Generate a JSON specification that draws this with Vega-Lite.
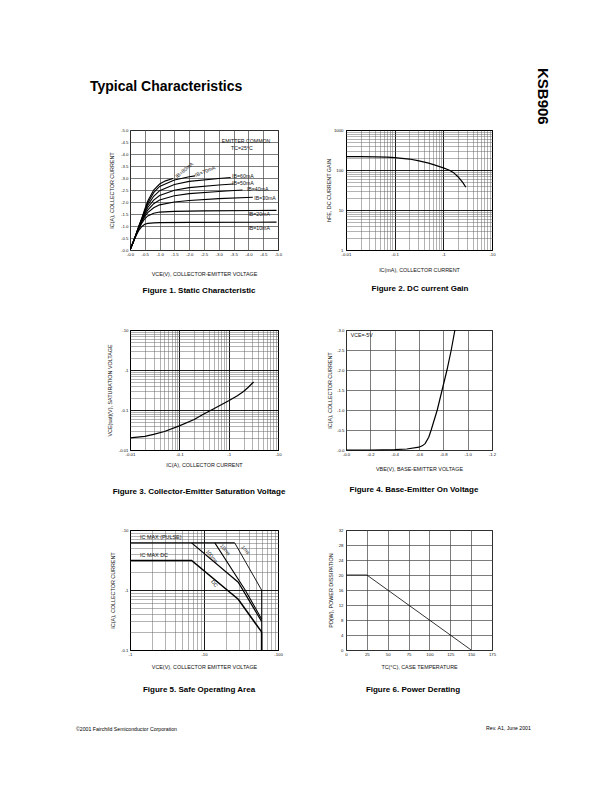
{
  "$schema": "https://vega.github.io/schema/vega-lite/v6.json",
  "autosize": {"type": "none"},
  "padding": {"left": 130, "top": 130, "right": 482, "bottom": 662},
  "background": "white",
  "config": {
    "font": "Liberation Sans",
    "view": {"stroke": "black", "strokeWidth": 1},
    "axis": {"domain": false, "ticks": false, "labelFontSize": 4.3, "labelColor": "#111", "labelFont": "Liberation Sans", "labelPadding": 2, "labelFlush": false, "labelOverlap": false, "labelBound": false, "titleFontSize": 5.4, "titleFontWeight": "normal", "titleColor": "#111", "titleFont": "Liberation Sans", "gridColor": "#444", "gridWidth": 0.7, "gridOpacity": 1},
    "title": {"fontSize": 8, "fontWeight": "bold", "color": "black", "font": "Liberation Sans"},
    "text": {"font": "Liberation Sans", "fontSize": 5.4, "color": "#111"}
  },
  "datasets": {
    "fig1": [
      {"ib": "10mA", "vce": 0, "ic": 0}, {"ib": "10mA", "vce": 0.1, "ic": 0.3}, {"ib": "10mA", "vce": 0.2, "ic": 0.58}, {"ib": "10mA", "vce": 0.3, "ic": 0.82}, {"ib": "10mA", "vce": 0.4, "ic": 0.98}, {"ib": "10mA", "vce": 0.5, "ic": 1.07}, {"ib": "10mA", "vce": 0.6, "ic": 1.11}, {"ib": "10mA", "vce": 0.8, "ic": 1.13}, {"ib": "10mA", "vce": 1.0, "ic": 1.14}, {"ib": "10mA", "vce": 2.0, "ic": 1.15}, {"ib": "10mA", "vce": 4.95, "ic": 1.16},
      {"ib": "20mA", "vce": 0, "ic": 0}, {"ib": "20mA", "vce": 0.1, "ic": 0.3}, {"ib": "20mA", "vce": 0.2, "ic": 0.6}, {"ib": "20mA", "vce": 0.3, "ic": 0.88}, {"ib": "20mA", "vce": 0.4, "ic": 1.12}, {"ib": "20mA", "vce": 0.5, "ic": 1.3}, {"ib": "20mA", "vce": 0.6, "ic": 1.42}, {"ib": "20mA", "vce": 0.8, "ic": 1.53}, {"ib": "20mA", "vce": 1.0, "ic": 1.58}, {"ib": "20mA", "vce": 1.5, "ic": 1.61}, {"ib": "20mA", "vce": 2.5, "ic": 1.63}, {"ib": "20mA", "vce": 4.95, "ic": 1.65},
      {"ib": "30mA", "vce": 0, "ic": 0}, {"ib": "30mA", "vce": 0.1, "ic": 0.3}, {"ib": "30mA", "vce": 0.2, "ic": 0.61}, {"ib": "30mA", "vce": 0.3, "ic": 0.92}, {"ib": "30mA", "vce": 0.4, "ic": 1.18}, {"ib": "30mA", "vce": 0.5, "ic": 1.4}, {"ib": "30mA", "vce": 0.6, "ic": 1.56}, {"ib": "30mA", "vce": 0.8, "ic": 1.76}, {"ib": "30mA", "vce": 1.0, "ic": 1.88}, {"ib": "30mA", "vce": 1.5, "ic": 2.0}, {"ib": "30mA", "vce": 2.0, "ic": 2.06}, {"ib": "30mA", "vce": 3.0, "ic": 2.14}, {"ib": "30mA", "vce": 4.15, "ic": 2.2},
      {"ib": "40mA", "vce": 0, "ic": 0}, {"ib": "40mA", "vce": 0.1, "ic": 0.3}, {"ib": "40mA", "vce": 0.2, "ic": 0.62}, {"ib": "40mA", "vce": 0.3, "ic": 0.94}, {"ib": "40mA", "vce": 0.4, "ic": 1.22}, {"ib": "40mA", "vce": 0.5, "ic": 1.47}, {"ib": "40mA", "vce": 0.6, "ic": 1.66}, {"ib": "40mA", "vce": 0.8, "ic": 1.93}, {"ib": "40mA", "vce": 1.0, "ic": 2.08}, {"ib": "40mA", "vce": 1.5, "ic": 2.26}, {"ib": "40mA", "vce": 2.0, "ic": 2.35}, {"ib": "40mA", "vce": 3.0, "ic": 2.44}, {"ib": "40mA", "vce": 3.8, "ic": 2.5},
      {"ib": "50mA", "vce": 0, "ic": 0}, {"ib": "50mA", "vce": 0.1, "ic": 0.3}, {"ib": "50mA", "vce": 0.2, "ic": 0.63}, {"ib": "50mA", "vce": 0.3, "ic": 0.96}, {"ib": "50mA", "vce": 0.4, "ic": 1.26}, {"ib": "50mA", "vce": 0.5, "ic": 1.54}, {"ib": "50mA", "vce": 0.6, "ic": 1.77}, {"ib": "50mA", "vce": 0.8, "ic": 2.08}, {"ib": "50mA", "vce": 1.0, "ic": 2.27}, {"ib": "50mA", "vce": 1.5, "ic": 2.49}, {"ib": "50mA", "vce": 2.0, "ic": 2.6}, {"ib": "50mA", "vce": 3.0, "ic": 2.71}, {"ib": "50mA", "vce": 3.5, "ic": 2.75},
      {"ib": "60mA", "vce": 0, "ic": 0}, {"ib": "60mA", "vce": 0.1, "ic": 0.3}, {"ib": "60mA", "vce": 0.2, "ic": 0.64}, {"ib": "60mA", "vce": 0.3, "ic": 0.98}, {"ib": "60mA", "vce": 0.4, "ic": 1.29}, {"ib": "60mA", "vce": 0.5, "ic": 1.6}, {"ib": "60mA", "vce": 0.6, "ic": 1.87}, {"ib": "60mA", "vce": 0.8, "ic": 2.24}, {"ib": "60mA", "vce": 1.0, "ic": 2.47}, {"ib": "60mA", "vce": 1.5, "ic": 2.73}, {"ib": "60mA", "vce": 2.0, "ic": 2.86}, {"ib": "60mA", "vce": 3.0, "ic": 2.98}, {"ib": "60mA", "vce": 3.4, "ic": 3.02},
      {"ib": "70mA", "vce": 0, "ic": 0}, {"ib": "70mA", "vce": 0.1, "ic": 0.3}, {"ib": "70mA", "vce": 0.2, "ic": 0.64}, {"ib": "70mA", "vce": 0.3, "ic": 0.99}, {"ib": "70mA", "vce": 0.4, "ic": 1.31}, {"ib": "70mA", "vce": 0.5, "ic": 1.65}, {"ib": "70mA", "vce": 0.6, "ic": 1.96}, {"ib": "70mA", "vce": 0.8, "ic": 2.39}, {"ib": "70mA", "vce": 1.0, "ic": 2.65}, {"ib": "70mA", "vce": 1.5, "ic": 2.92}, {"ib": "70mA", "vce": 2.0, "ic": 3.05}, {"ib": "70mA", "vce": 2.2, "ic": 3.09},
      {"ib": "80mA", "vce": 0, "ic": 0}, {"ib": "80mA", "vce": 0.1, "ic": 0.3}, {"ib": "80mA", "vce": 0.2, "ic": 0.65}, {"ib": "80mA", "vce": 0.3, "ic": 1.0}, {"ib": "80mA", "vce": 0.4, "ic": 1.33}, {"ib": "80mA", "vce": 0.5, "ic": 1.7}, {"ib": "80mA", "vce": 0.6, "ic": 2.04}, {"ib": "80mA", "vce": 0.8, "ic": 2.5}, {"ib": "80mA", "vce": 1.0, "ic": 2.75}, {"ib": "80mA", "vce": 1.2, "ic": 2.88}, {"ib": "80mA", "vce": 1.45, "ic": 2.98}
    ],
    "fig2": [
      {"ic": 0.01, "hfe": 215}, {"ic": 0.02, "hfe": 215}, {"ic": 0.04, "hfe": 214}, {"ic": 0.07, "hfe": 210}, {"ic": 0.1, "hfe": 205}, {"ic": 0.2, "hfe": 188}, {"ic": 0.3, "hfe": 172}, {"ic": 0.5, "hfe": 148}, {"ic": 0.7, "hfe": 131}, {"ic": 1.0, "hfe": 113}, {"ic": 1.3, "hfe": 100}, {"ic": 1.6, "hfe": 87}, {"ic": 2.0, "hfe": 68}, {"ic": 2.5, "hfe": 49}, {"ic": 2.9, "hfe": 37}
    ],
    "fig3": [
      {"ic": 0.01, "vsat": 0.02}, {"ic": 0.02, "vsat": 0.022}, {"ic": 0.03, "vsat": 0.0245}, {"ic": 0.05, "vsat": 0.029}, {"ic": 0.1, "vsat": 0.04}, {"ic": 0.2, "vsat": 0.058}, {"ic": 0.3, "vsat": 0.077}, {"ic": 0.5, "vsat": 0.107}, {"ic": 1.0, "vsat": 0.17}, {"ic": 1.5, "vsat": 0.228}, {"ic": 2.0, "vsat": 0.29}, {"ic": 2.5, "vsat": 0.37}, {"ic": 3.2, "vsat": 0.5}
    ],
    "fig4": [
      {"vbe": 0, "ic": 0}, {"vbe": 0.2, "ic": 0.0}, {"vbe": 0.4, "ic": 0.01}, {"vbe": 0.5, "ic": 0.025}, {"vbe": 0.6, "ic": 0.07}, {"vbe": 0.63, "ic": 0.11}, {"vbe": 0.65, "ic": 0.16}, {"vbe": 0.68, "ic": 0.32}, {"vbe": 0.7, "ic": 0.5}, {"vbe": 0.75, "ic": 1.0}, {"vbe": 0.79, "ic": 1.5}, {"vbe": 0.83, "ic": 2.0}, {"vbe": 0.865, "ic": 2.5}, {"vbe": 0.895, "ic": 3.0}
    ],
    "fig5": [
      {"curve": "DC", "vce": 1, "ic": 3.1}, {"curve": "DC", "vce": 6.8, "ic": 3.1}, {"curve": "DC", "vce": 29, "ic": 0.7}, {"curve": "DC", "vce": 60, "ic": 0.2}, {"curve": "DC", "vce": 60, "ic": 0.1},
      {"curve": "PULSE", "vce": 1, "ic": 6.1}, {"curve": "PULSE", "vce": 26, "ic": 6.1},
      {"curve": "100ms", "vce": 6.8, "ic": 6.1}, {"curve": "100ms", "vce": 29, "ic": 1.35}, {"curve": "100ms", "vce": 60, "ic": 0.3},
      {"curve": "10ms", "vce": 14, "ic": 6.1}, {"curve": "10ms", "vce": 36, "ic": 1.0}, {"curve": "10ms", "vce": 60, "ic": 0.33},
      {"curve": "1ms", "vce": 26, "ic": 6.1}, {"curve": "1ms", "vce": 60, "ic": 1.0}, {"curve": "1ms", "vce": 60, "ic": 0.1}
    ],
    "fig6": [
      {"tc": 0, "pd": 20}, {"tc": 25, "pd": 20}, {"tc": 150, "pd": 0}
    ]
  },
  "title": {"text": "KSB906", "orient": "right", "anchor": "start", "frame": "group", "fontSize": 15, "fontWeight": "bold", "offset": 4, "dx": -62},
  "bounds": "flush",
  "vconcat": [
    {
      "title": {"text": "Typical Characteristics", "orient": "top", "anchor": "start", "frame": "group", "fontSize": 14, "fontWeight": "bold", "offset": 34, "dx": -40},
      "bounds": "flush",
      "vconcat": [
        {
          "title": {"text": "Rev. A1, June 2001", "orient": "bottom", "anchor": "start", "frame": "group", "fontSize": 5.2, "fontWeight": "normal", "offset": -6, "dx": 356},
          "bounds": "flush",
          "vconcat": [
            {
              "title": {"text": "©2001 Fairchild Semiconductor Corporation", "orient": "bottom", "anchor": "start", "frame": "group", "fontSize": 5.2, "fontWeight": "normal", "offset": 33, "dx": -54},
              "bounds": "flush",
              "columns": 2,
              "spacing": {"row": 80, "column": 68},
              "concat": [
                {
                  "width": 148, "height": 120,
                  "title": {"text": "Figure 1. Static Characteristic", "orient": "bottom", "anchor": "middle", "frame": "group", "dx": -5, "offset": 10},
                  "encoding": {
                    "x": {"field": "vce", "type": "quantitative", "scale": {"domain": [0, 5], "nice": false}, "title": "VCE(V), COLLECTOR-EMITTER VOLTAGE",
                          "axis": {"values": [0, 0.5, 1, 1.5, 2, 2.5, 3, 3.5, 4, 4.5, 5], "labelExpr": "'-' + format(datum.value, '.1f')", "titlePadding": 15}},
                    "y": {"field": "ic", "type": "quantitative", "scale": {"domain": [0, 5], "nice": false}, "title": "IC(A), COLLECTOR CURRENT",
                          "axis": {"values": [0, 0.5, 1, 1.5, 2, 2.5, 3, 3.5, 4, 4.5, 5], "labelExpr": "'-' + format(datum.value, '.1f')", "titlePadding": 6}}
                  },
                  "layer": [
                    {
                      "data": {"name": "fig1"},
                      "mark": {"type": "line", "color": "black", "strokeWidth": 1.1, "clip": true},
                      "encoding": {"detail": {"field": "ib"}}
                    },
                    {
                      "data": {"values": [
                        {"label": "IB=60mA", "vce": 3.45, "ic": 3.08},
                        {"label": "IB=50mA", "vce": 3.45, "ic": 2.8},
                        {"label": "IB=40mA", "vce": 3.95, "ic": 2.53},
                        {"label": "IB=30mA", "vce": 4.2, "ic": 2.18},
                        {"label": "IB=20mA", "vce": 4.0, "ic": 1.5},
                        {"label": "IB=10mA", "vce": 4.0, "ic": 0.9}
                      ]},
                      "mark": {"type": "text", "align": "left", "baseline": "middle", "fontSize": 5.2},
                      "encoding": {"text": {"field": "label"}}
                    },
                    {
                      "data": {"values": [{"label": "EMITTER COMMON", "vce": 3.92, "ic": 4.55}, {"label": "TC=25°C", "vce": 3.78, "ic": 4.27}]},
                      "mark": {"type": "text", "align": "center", "baseline": "middle", "fontSize": 5.2},
                      "encoding": {"text": {"field": "label"}}
                    },
                    {
                      "data": {"values": [{"label": "IB=80mA", "vce": 1.55, "ic": 3.05}]},
                      "mark": {"type": "text", "align": "left", "baseline": "middle", "fontSize": 5.2, "angle": 320},
                      "encoding": {"text": {"field": "label"}}
                    },
                    {
                      "data": {"values": [{"label": "IB=70mA", "vce": 2.2, "ic": 3.12}]},
                      "mark": {"type": "text", "align": "left", "baseline": "middle", "fontSize": 5.2, "angle": 338},
                      "encoding": {"text": {"field": "label"}}
                    }
                  ]
                },
                {
                  "width": 146, "height": 120,
                  "title": {"text": "Figure 2. DC current Gain", "orient": "bottom", "anchor": "middle", "frame": "group", "dx": 1, "offset": 12},
                  "layer": [
                    {
                      "data": {"name": "fig2"},
                      "mark": {"type": "line", "color": "black", "strokeWidth": 1.2},
                      "encoding": {
                        "x": {"field": "ic", "type": "quantitative", "scale": {"type": "log", "domain": [0.01, 10], "nice": false}, "title": "IC(mA), COLLECTOR CURRENT",
                              "axis": {"values": [0.01, 0.02, 0.03, 0.04, 0.05, 0.06, 0.07, 0.08, 0.09, 0.1, 0.2, 0.3, 0.4, 0.5, 0.6, 0.7, 0.8, 0.9, 1, 2, 3, 4, 5, 6, 7, 8, 9, 10],
                                       "labelExpr": "abs(log(datum.value)/LN10 - round(log(datum.value)/LN10)) < 0.000001 ? '-' + datum.value : ''",
                                       "gridColor": {"condition": {"test": "abs(log(datum.value)/LN10 - round(log(datum.value)/LN10)) < 0.000001", "value": "black"}, "value": "#666"},
                                       "gridWidth": {"condition": {"test": "abs(log(datum.value)/LN10 - round(log(datum.value)/LN10)) < 0.000001", "value": 0.9}, "value": 0.5},
                                       "titlePadding": 11}},
                        "y": {"field": "hfe", "type": "quantitative", "scale": {"type": "log", "domain": [1, 1000], "nice": false}, "title": "hFE, DC CURRENT GAIN",
                              "axis": {"values": [1, 2, 3, 4, 5, 6, 7, 8, 9, 10, 20, 30, 40, 50, 60, 70, 80, 90, 100, 200, 300, 400, 500, 600, 700, 800, 900, 1000],
                                       "labelExpr": "abs(log(datum.value)/LN10 - round(log(datum.value)/LN10)) < 0.000001 ? '' + datum.value : ''",
                                       "gridColor": {"condition": {"test": "abs(log(datum.value)/LN10 - round(log(datum.value)/LN10)) < 0.000001", "value": "black"}, "value": "#666"},
                                       "gridWidth": {"condition": {"test": "abs(log(datum.value)/LN10 - round(log(datum.value)/LN10)) < 0.000001", "value": 0.9}, "value": 0.5},
                                       "labelPadding": 3, "titlePadding": 2}}
                      }
                    },
                    {
                      "mark": {"type": "rect", "color": "white"},
                      "encoding": {"x": {"datum": 2.8}, "x2": {"datum": 9.9}, "y": {"datum": 500}, "y2": {"datum": 990}}
                    },
                    {
                      "mark": {"type": "text", "align": "center", "baseline": "middle", "fontSize": 5.4},
                      "encoding": {"x": {"datum": 5.2}, "y": {"datum": 720}, "text": {"value": "VCE=-5V"}}
                    }
                  ]
                },
                {
                  "width": 148, "height": 120,
                  "title": {"text": "Figure 3. Collector-Emitter Saturation Voltage", "orient": "bottom", "anchor": "middle", "frame": "group", "dx": -5, "offset": 20},
                  "layer": [
                    {
                      "data": {"name": "fig3"},
                      "mark": {"type": "line", "color": "black", "strokeWidth": 1.2},
                      "encoding": {
                        "x": {"field": "ic", "type": "quantitative", "scale": {"type": "log", "domain": [0.01, 10], "nice": false}, "title": "IC(A), COLLECTOR CURRENT",
                              "axis": {"values": [0.01, 0.02, 0.03, 0.04, 0.05, 0.06, 0.07, 0.08, 0.09, 0.1, 0.2, 0.3, 0.4, 0.5, 0.6, 0.7, 0.8, 0.9, 1, 2, 3, 4, 5, 6, 7, 8, 9, 10],
                                       "labelExpr": "abs(log(datum.value)/LN10 - round(log(datum.value)/LN10)) < 0.000001 ? '-' + datum.value : ''",
                                       "gridColor": {"condition": {"test": "abs(log(datum.value)/LN10 - round(log(datum.value)/LN10)) < 0.000001", "value": "black"}, "value": "#666"},
                                       "gridWidth": {"condition": {"test": "abs(log(datum.value)/LN10 - round(log(datum.value)/LN10)) < 0.000001", "value": 0.9}, "value": 0.5},
                                       "titlePadding": 6.5}},
                        "y": {"field": "vsat", "type": "quantitative", "scale": {"type": "log", "domain": [0.01, 10], "nice": false}, "title": "VCE(sat)(V), SATURATION VOLTAGE",
                              "axis": {"values": [0.01, 0.02, 0.03, 0.04, 0.05, 0.06, 0.07, 0.08, 0.09, 0.1, 0.2, 0.3, 0.4, 0.5, 0.6, 0.7, 0.8, 0.9, 1, 2, 3, 4, 5, 6, 7, 8, 9, 10],
                                       "labelExpr": "abs(log(datum.value)/LN10 - round(log(datum.value)/LN10)) < 0.000001 ? '-' + datum.value : ''",
                                       "gridColor": {"condition": {"test": "abs(log(datum.value)/LN10 - round(log(datum.value)/LN10)) < 0.000001", "value": "black"}, "value": "#666"},
                                       "gridWidth": {"condition": {"test": "abs(log(datum.value)/LN10 - round(log(datum.value)/LN10)) < 0.000001", "value": 0.9}, "value": 0.5},
                                       "titlePadding": 5.5}}
                      }
                    },
                    {
                      "mark": {"type": "rect", "color": "white"},
                      "encoding": {"x": {"datum": 3.2}, "x2": {"datum": 9.9}, "y": {"datum": 5}, "y2": {"datum": 9.9}}
                    },
                    {
                      "mark": {"type": "text", "align": "center", "baseline": "middle", "fontSize": 5.4},
                      "encoding": {"x": {"datum": 5.6}, "y": {"datum": 7.1}, "text": {"value": "IC=10IB"}}
                    }
                  ]
                },
                {
                  "width": 146, "height": 120,
                  "title": {"text": "Figure 4. Base-Emitter On Voltage", "orient": "bottom", "anchor": "middle", "frame": "group", "dx": -5, "offset": 14},
                  "encoding": {
                    "x": {"field": "vbe", "type": "quantitative", "scale": {"domain": [0, 1.2], "nice": false}, "title": "VBE(V), BASE-EMITTER VOLTAGE",
                          "axis": {"values": [0, 0.2, 0.4, 0.6, 0.8, 1.0, 1.2], "labelExpr": "'-' + format(datum.value, '.1f')", "titlePadding": 10}},
                    "y": {"field": "ic", "type": "quantitative", "scale": {"domain": [0, 3], "nice": false}, "title": "IC(A), COLLECTOR CURRENT",
                          "axis": {"values": [0, 0.5, 1, 1.5, 2, 2.5, 3], "labelExpr": "'-' + format(datum.value, '.1f')", "titlePadding": 4.5}}
                  },
                  "layer": [
                    {
                      "data": {"name": "fig4"},
                      "mark": {"type": "line", "color": "black", "strokeWidth": 1.2}
                    },
                    {
                      "data": {"values": [{"label": "VCE=-5V", "vbe": 0.04, "ic": 2.88}]},
                      "mark": {"type": "text", "align": "left", "baseline": "middle", "fontSize": 5.2},
                      "encoding": {"text": {"field": "label"}}
                    }
                  ]
                },
                {
                  "width": 148, "height": 120,
                  "title": {"text": "Figure 5. Safe Operating Area", "orient": "bottom", "anchor": "middle", "frame": "group", "dx": -5, "offset": 16},
                  "encoding": {
                    "x": {"field": "vce", "type": "quantitative", "scale": {"type": "log", "domain": [1, 100], "nice": false}, "title": "VCE(V), COLLECTOR EMITTER VOLTAGE",
                          "axis": {"values": [1, 2, 3, 4, 5, 6, 7, 8, 9, 10, 20, 30, 40, 50, 60, 70, 80, 90, 100],
                                   "labelExpr": "abs(log(datum.value)/LN10 - round(log(datum.value)/LN10)) < 0.000001 ? '-' + datum.value : ''",
                                   "gridColor": {"condition": {"test": "abs(log(datum.value)/LN10 - round(log(datum.value)/LN10)) < 0.000001", "value": "black"}, "value": "#666"},
                                   "gridWidth": {"condition": {"test": "abs(log(datum.value)/LN10 - round(log(datum.value)/LN10)) < 0.000001", "value": 0.9}, "value": 0.5},
                                   "titlePadding": 8}},
                    "y": {"field": "ic", "type": "quantitative", "scale": {"type": "log", "domain": [0.1, 10], "nice": false}, "title": "IC(A), COLLECTOR CURRENT",
                          "axis": {"values": [0.1, 0.2, 0.3, 0.4, 0.5, 0.6, 0.7, 0.8, 0.9, 1, 2, 3, 4, 5, 6, 7, 8, 9, 10],
                                   "labelExpr": "abs(log(datum.value)/LN10 - round(log(datum.value)/LN10)) < 0.000001 ? '-' + datum.value : ''",
                                   "gridColor": {"condition": {"test": "abs(log(datum.value)/LN10 - round(log(datum.value)/LN10)) < 0.000001", "value": "black"}, "value": "#666"},
                                   "gridWidth": {"condition": {"test": "abs(log(datum.value)/LN10 - round(log(datum.value)/LN10)) < 0.000001", "value": 0.9}, "value": 0.5},
                                   "titlePadding": 5}}
                  },
                  "layer": [
                    {
                      "data": {"name": "fig5"},
                      "mark": {"type": "line", "color": "black"},
                      "encoding": {
                        "detail": {"field": "curve"},
                        "strokeWidth": {"field": "curve", "type": "nominal", "scale": {"domain": ["DC", "PULSE", "100ms", "10ms", "1ms"], "range": [1.5, 0.9, 0.7, 0.7, 0.7]}, "legend": null},
                        "order": {"value": null}
                      }
                    },
                    {
                      "data": {"values": [{"label": "IC MAX (PULSE)", "vce": 1.37, "ic": 7.7}, {"label": "IC MAX DC", "vce": 1.37, "ic": 3.8}]},
                      "mark": {"type": "text", "align": "left", "baseline": "middle", "fontSize": 5.4},
                      "encoding": {"text": {"field": "label"}}
                    },
                    {
                      "data": {"values": [{"label": "100ms", "vce": 12.8, "ic": 3.64}, {"label": "10ms", "vce": 19.5, "ic": 4.7}, {"label": "1ms", "vce": 36.7, "ic": 4.7}, {"label": "DC", "vce": 13.9, "ic": 1.29}]},
                      "mark": {"type": "text", "align": "center", "baseline": "middle", "fontSize": 5.2, "angle": 50},
                      "encoding": {"text": {"field": "label"}}
                    }
                  ]
                },
                {
                  "width": 146, "height": 120,
                  "title": {"text": "Figure 6. Power Derating", "orient": "bottom", "anchor": "middle", "frame": "group", "dx": -6, "offset": 16},
                  "layer": [
                    {
                      "data": {"name": "fig6"},
                      "mark": {"type": "line", "color": "black", "strokeWidth": 0.8},
                      "encoding": {
                        "x": {"field": "tc", "type": "quantitative", "scale": {"domain": [0, 175], "nice": false}, "title": "TC(°C), CASE TEMPERATURE",
                              "axis": {"values": [0, 25, 50, 75, 100, 125, 150, 175], "titlePadding": 8}},
                        "y": {"field": "pd", "type": "quantitative", "scale": {"domain": [0, 32], "nice": false}, "title": "PD(W), POWER DISSIPATION",
                              "axis": {"values": [0, 4, 8, 12, 16, 20, 24, 28, 32], "labelPadding": 3, "titlePadding": 5}}
                      }
                    }
                  ]
                }
              ]
            }
          ]
        }
      ]
    }
  ]
}
